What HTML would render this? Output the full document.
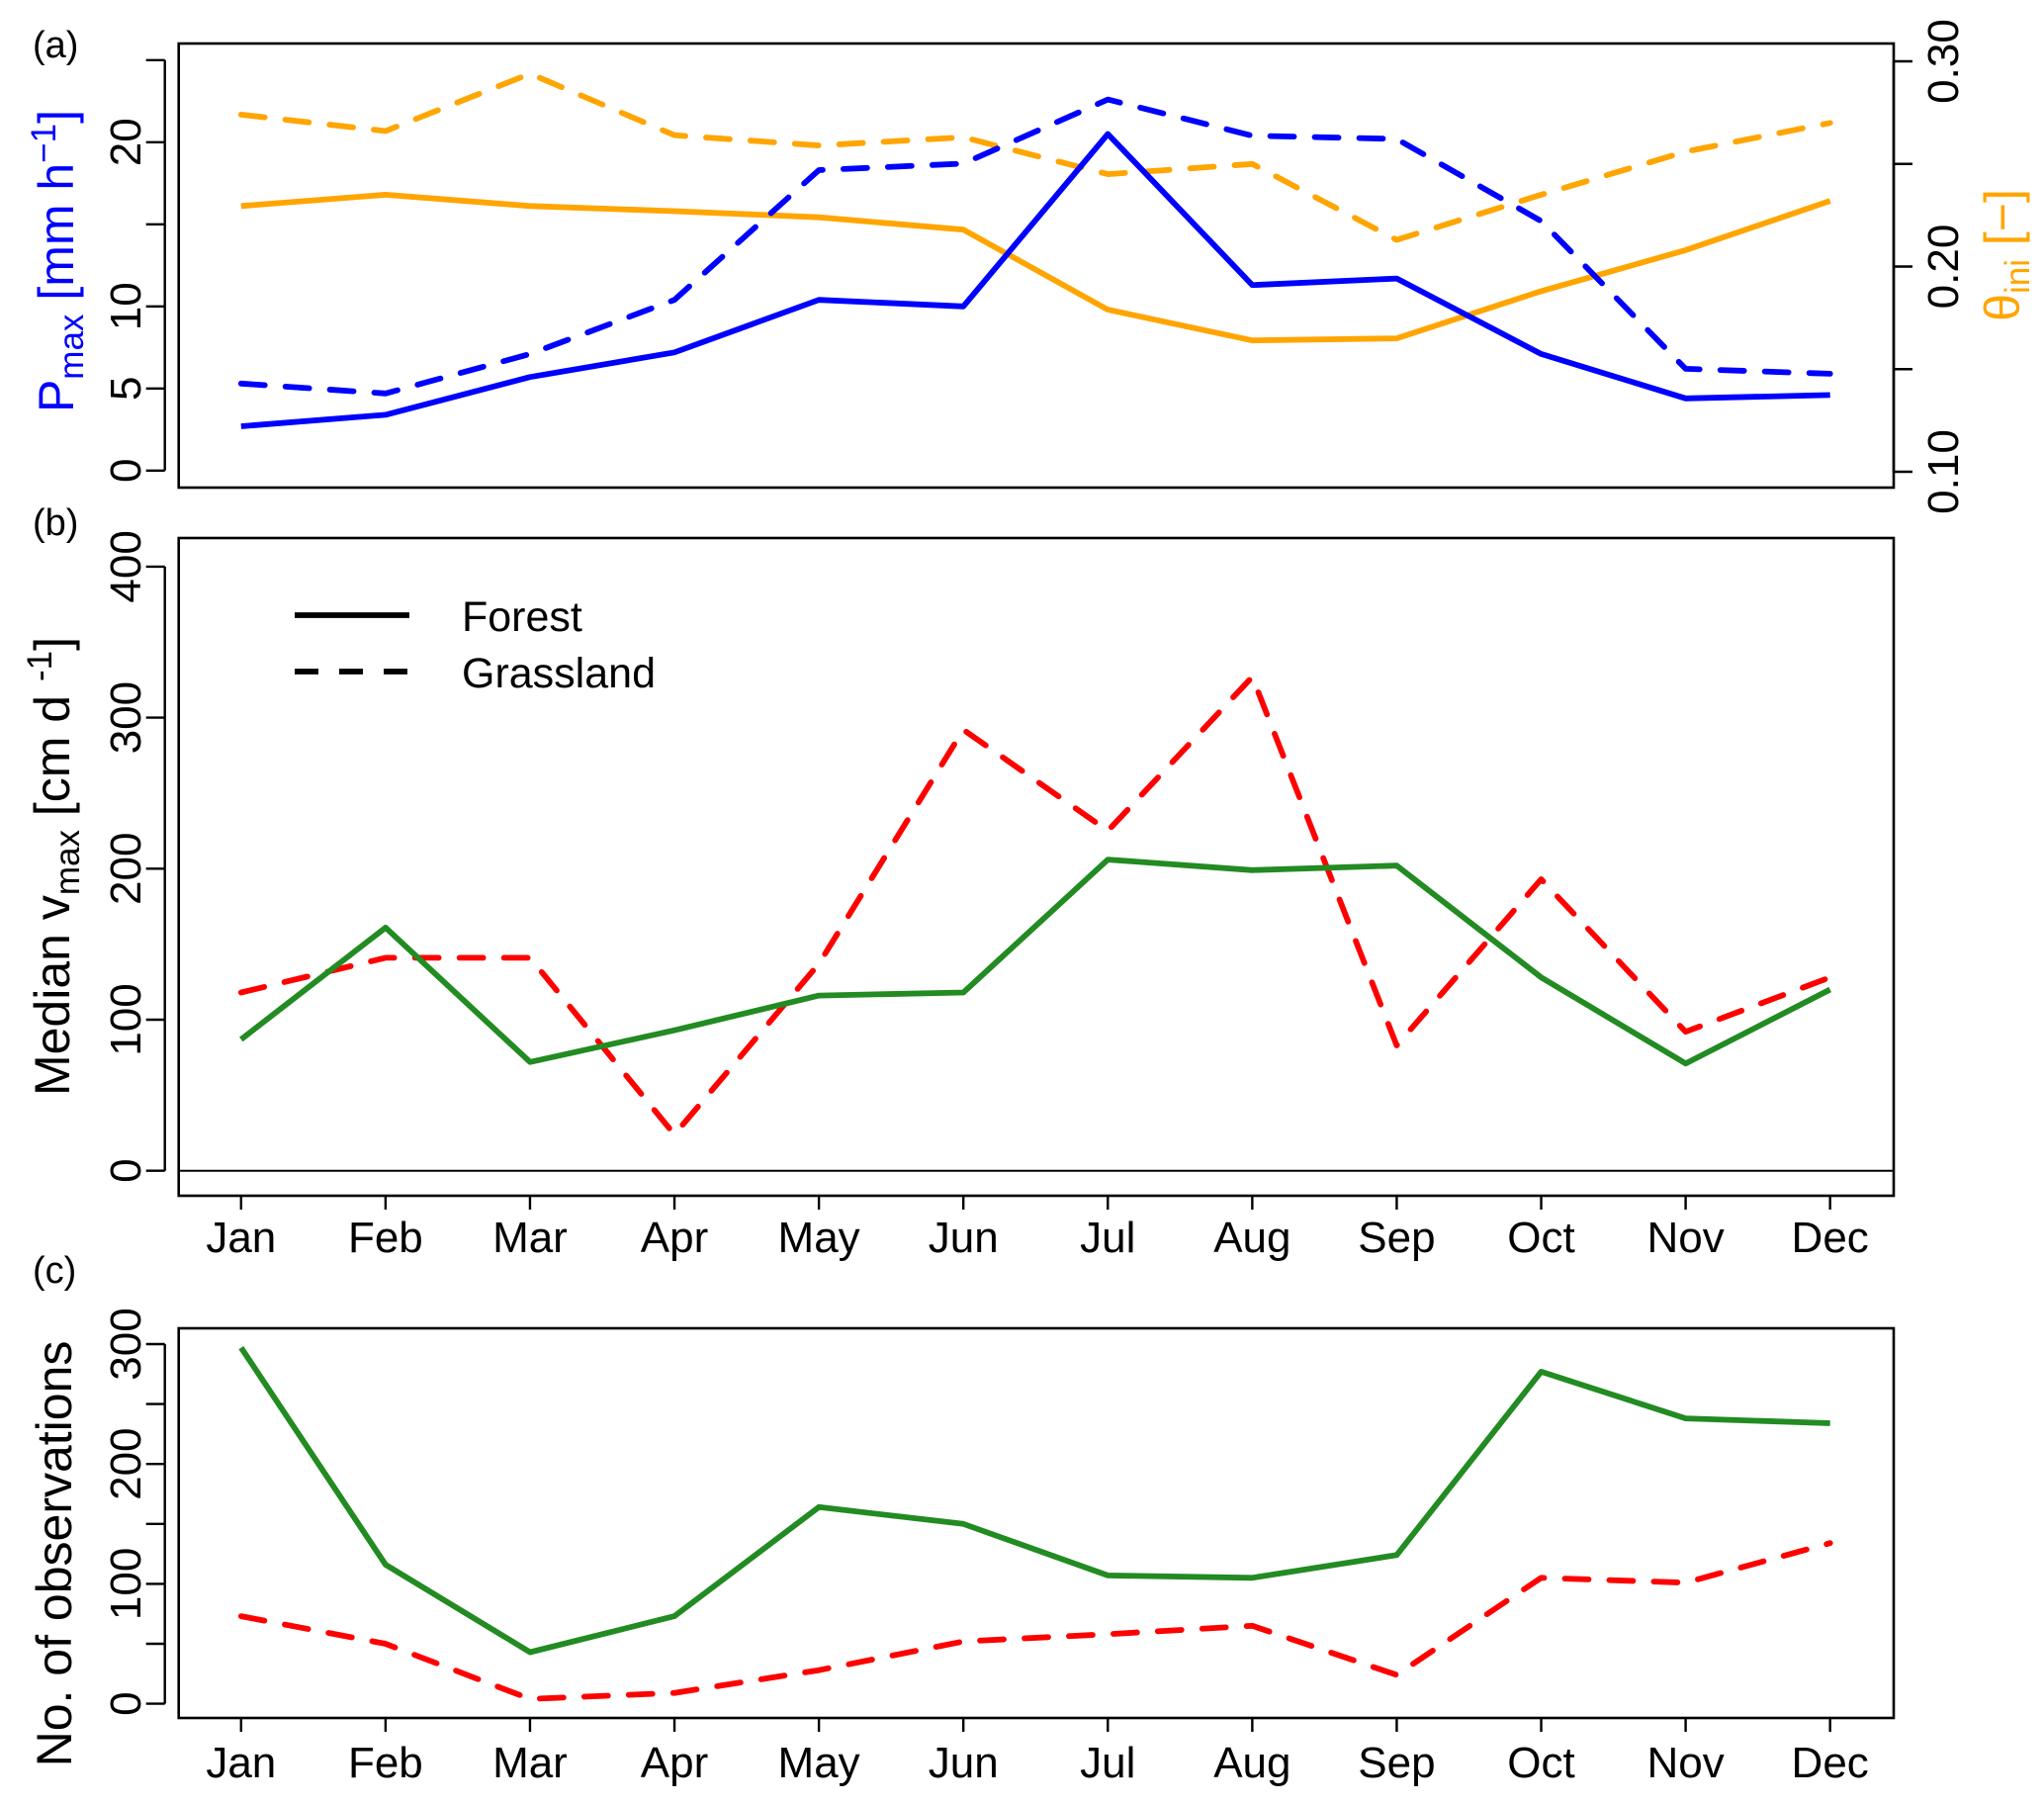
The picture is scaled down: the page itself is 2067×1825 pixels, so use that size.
<!DOCTYPE html>
<html><head><meta charset="utf-8">
<style>
html,body{margin:0;padding:0;background:#fff;}
svg{display:block;font-family:"Liberation Sans",Arial,sans-serif;}
</style></head>
<body>
<svg id="chart" width="2067" height="1825" viewBox="0 0 2067 1825" xmlns="http://www.w3.org/2000/svg"></svg>
<script>
const months = ["Jan","Feb","Mar","Apr","May","Jun","Jul","Aug","Sep","Oct","Nov","Dec"];
const pmaxForest = [2.7,3.4,5.7,7.2,10.4,10.0,20.5,11.3,11.7,7.1,4.4,4.6];
const pmaxGrass = [5.3,4.7,7.1,10.4,18.3,18.7,22.6,20.4,20.2,15.2,6.2,5.9];
const thetaForest = [0.2295,0.235,0.2295,0.227,0.224,0.218,0.179,0.164,0.165,0.188,0.208,0.232];
const thetaGrass = [0.274,0.266,0.294,0.264,0.259,0.263,0.245,0.250,0.213,0.235,0.256,0.270];
const vmaxForest = [87,161,72,93,116,118,206,199,202,128,71,120];
const vmaxGrass = [118,141,141,24,137,292,225,327,83,193,92,128];
const obsForest = [297,116,43,73,164,150,107,105,124,277,238,234];
const obsGrass = [73,50,4,9,28,52,58,65,24,105,101,134];
const ticksA = [0,5,10,15,20,25];
const ticksALabels = ["0","5","10","","20",""];
const ticksTheta = [0.10,0.15,0.20,0.25,0.30];
const ticksThetaLabels = ["0.10","","0.20","","0.30"];
const ticksB = [0,100,200,300,400];
const ticksC = [0,50,100,150,200,250,300];
const ticksCLabels = ["0","","100","","200","","300"];

const svg = document.getElementById('chart');
const NS = "http://www.w3.org/2000/svg";
function el(tag, attrs, parent){
  const e = document.createElementNS(NS, tag);
  for (const k in attrs) e.setAttribute(k, attrs[k]);
  (parent||svg).appendChild(e);
  return e;
}
const X0 = 180.7, X1 = 1915;
function xm(i){ return 243.8 + i*146.08; }
const yA = v => 475.8 - v*16.6;
const yT = v => 477 - (v-0.10)*(415/0.20);
const yB = v => 1183.7 - v*1.527;
const yC = v => 1722.6 - v*1.212;

function frame(top,bottom,name){
  const r = el('rect',{x:X0,y:top,width:X1-X0,height:bottom-top,fill:'none',stroke:'#000','stroke-width':2.6});
  
  
}
function yAxisLeft(ticks,labels,fy,name){
  const g = el('g',{});
  
  
  el('line',{x1:X0-14,x2:X0-14,y1:fy(ticks[0]),y2:fy(ticks[ticks.length-1]),stroke:'#000','stroke-width':2.4},g);
  ticks.forEach((t,i)=>{
    const y=fy(t);
    el('line',{x1:X0-14,x2:X0-33,y1:y,y2:y,stroke:'#000','stroke-width':2.4},g);
    if(labels[i]!==""){
      const tx=el('text',{x:0,y:0,transform:`translate(142,${y}) rotate(-90)`,'text-anchor':'middle','font-size':44},g);
      tx.textContent=labels[i];
      
      
    }
  });
}
function xAxis(bottom,labelY,name){
  const g = el('g',{});
  
  
  months.forEach((m,i)=>{
    el('line',{x1:xm(i),x2:xm(i),y1:bottom,y2:bottom+14,stroke:'#000','stroke-width':2.4},g);
    const t=el('text',{x:xm(i),y:labelY,'text-anchor':'middle','font-size':44},g);
    t.textContent=m;
    
    
  });
}
function series(vals,fy,color,dashed,name){
  const pts = vals.map((v,i)=>xm(i).toFixed(1)+','+fy(v).toFixed(1)).join(' ');
  const p = el('polyline',{points:pts,fill:'none',stroke:color,'stroke-width':5.8,'stroke-linejoin':'round','stroke-linecap':dashed?'round':'butt'});
  if(dashed) p.setAttribute('stroke-dasharray','24 21');
  
  
}
function text(x,y,str,size,name,opts){
  const t=el('text',Object.assign({x:x,y:y,'font-size':size},opts||{}));
  t.textContent=str;
  
  
  return t;
}

// Panel a
frame(44,493,'panel-a-frame');
yAxisLeft(ticksA,ticksALabels,yA,'panel-a-left-axis');
const gR = el('g',{});


el('line',{x1:X1,x2:X1,y1:yT(0.10),y2:yT(0.30),stroke:'#000','stroke-width':2.4},gR);
ticksTheta.forEach((t,i)=>{
  const y=yT(t);
  el('line',{x1:X1,x2:X1+19,y1:y,y2:y,stroke:'#000','stroke-width':2.4},gR);
  if(ticksThetaLabels[i]!==""){
    const tx=el('text',{x:0,y:0,transform:`translate(1980,${y}) rotate(-90)`,'text-anchor':'middle','font-size':44},gR);
    tx.textContent=ticksThetaLabels[i];
    
    
  }
});
series(thetaGrass,yT,'#FFA500',true,'theta-grassland-line');
series(thetaForest,yT,'#FFA500',false,'theta-forest-line');
series(pmaxGrass,yA,'#0000FF',true,'pmax-grassland-line');
series(pmaxForest,yA,'#0000FF',false,'pmax-forest-line');
text(33,58,'(a)',38,'panel-a-label');
const tA = el('text',{x:0,y:0,transform:'translate(74,264) rotate(-90)','text-anchor':'middle','font-size':50,fill:'#0000FF'});


tA.innerHTML='P<tspan font-size="35" dy="10">max</tspan><tspan dy="-10"> [mm h</tspan><tspan font-size="35" dy="-18">−1</tspan><tspan dy="18">]</tspan>';
const tT = el('text',{x:0,y:0,transform:'translate(2042,258) rotate(-90)','text-anchor':'middle','font-size':50,fill:'#FFA500'});


tT.innerHTML='θ<tspan font-size="35" dy="10">ini</tspan><tspan dy="-10"> [−]</tspan>';

// Panel b
frame(544,1209,'panel-b-frame');
yAxisLeft(ticksB,ticksB.map(String),yB,'panel-b-left-axis');
const zl = el('line',{x1:X0,x2:X1,y1:yB(0),y2:yB(0),stroke:'#000','stroke-width':2});


series(vmaxGrass,yB,'#FF0000',true,'vmax-grassland-line');
series(vmaxForest,yB,'#228B22',false,'vmax-forest-line');
xAxis(1209,1266,'panel-b-x-axis');
text(33,541,'(b)',38,'panel-b-label');
const tB = el('text',{x:0,y:0,transform:'translate(70,876) rotate(-90)','text-anchor':'middle','font-size':50});


tB.innerHTML='Median v<tspan font-size="35" dy="10">max</tspan><tspan dy="-10"> [cm d </tspan><tspan font-size="35" dy="-18">-1</tspan><tspan dy="18">]</tspan>';
// legend
const lg = el('g',{});


el('line',{x1:298,x2:414,y1:622,y2:622,stroke:'#000','stroke-width':5.8},lg);
el('line',{x1:298,x2:414,y1:679,y2:679,stroke:'#000','stroke-width':5.8,'stroke-dasharray':'24 21'},lg);
const l1=el('text',{x:467,y:638,'font-size':43},lg); l1.textContent='Forest';


const l2=el('text',{x:467,y:695,'font-size':43},lg); l2.textContent='Grassland';



// Panel c
frame(1343,1737,'panel-c-frame');
yAxisLeft(ticksC,ticksCLabels,yC,'panel-c-left-axis');
series(obsGrass,yC,'#FF0000',true,'obs-grassland-line');
series(obsForest,yC,'#228B22',false,'obs-forest-line');
xAxis(1737,1797,'panel-c-x-axis');
text(33,1297,'(c)',38,'panel-c-label');
text(0,0,'No. of observations',50,'obs-axis-title',{transform:'translate(72,1571) rotate(-90)','text-anchor':'middle'});
</script>
</body></html>
